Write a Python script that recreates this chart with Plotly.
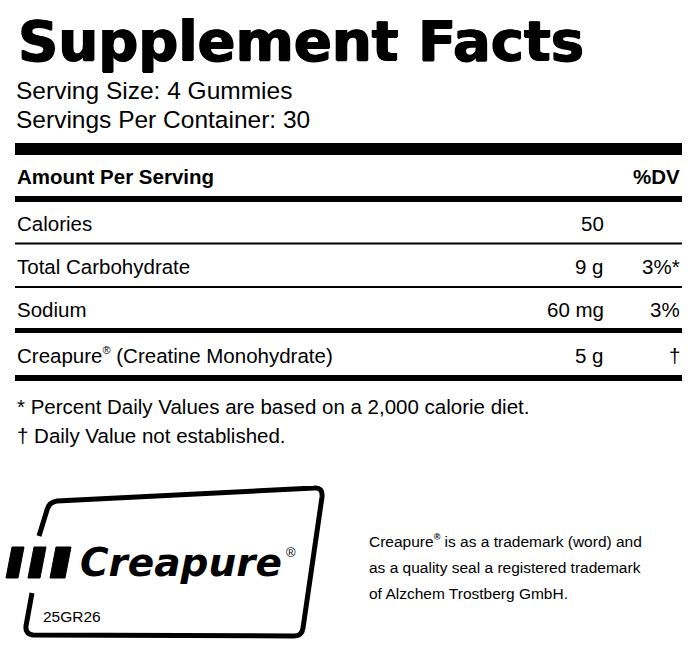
import plotly.graph_objects as go

# label content
title = "Supplement Facts"
serving_lines = ["Serving Size: 4 Gummies", "Servings Per Container: 30"]
header_left = "Amount Per Serving"
header_right = "%DV"
nutrients = ["Calories", "Total Carbohydrate", "Sodium",
             "Creapure<sup><span style='font-size:11px'>®</span></sup> (Creatine Monohydrate)"]
amounts = ["50", "9 g", "60 mg", "5 g"]
daily_values = ["", "3%*", "3%", "†"]
footnotes = ["* Percent Daily Values are based on a 2,000 calorie diet.",
             "† Daily Value not established."]
logo_word = "Creapure"
logo_code = "25GR26"
trademark_lines = ["Creapure<sup><span style='font-size:9px'><b>®</b></span></sup> is as a trademark (word) and",
                   "as a quality seal a registered trademark",
                   "of Alzchem Trostberg GmbH."]

W, H = 699, 656
LEFT, RIGHT = 15, 682
AMOUNT_X, DV_X = 605, 682
BODY = "Liberation Sans, Arial, sans-serif"

# horizontal rules: (top, bottom)
rules = [(143, 155), (196, 202), (242.5, 244.5), (286, 288), (328, 333), (375, 381)]

fig = go.Figure()
shapes = []
annotations = []


def text(x, y, s, size, anchor="left", family=BODY, shadow=None):
    font = dict(family=family, size=size, color="black")
    if shadow:
        font["shadow"] = shadow
    annotations.append(dict(x=x, y=y, xref="x", yref="y", text=s, showarrow=False,
                            xanchor=anchor, yanchor="middle", font=font))


for top, bottom in rules:
    shapes.append(dict(type="rect", x0=LEFT, x1=RIGHT, y0=top, y1=bottom,
                       xref="x", yref="y", fillcolor="black", line=dict(width=0)))

# heavy title: bold face thickened a little with a tight shadow
text(16, 40, "<b>" + title + "</b>", 56, family="DejaVu Sans, sans-serif",
     shadow="0.8px 0 0 black, -0.8px 0 0 black, 0 0.6px 0 black")
for i, s in enumerate(serving_lines):
    text(14, 90 + i * 29, s, 24.5)

# header row
text(LEFT, 176, "<b>" + header_left + "</b>", 20.5)
text(DV_X, 176, "<b>" + header_right + "</b>", 20.5, anchor="right")

# nutrient rows sit between consecutive rules
for i, name in enumerate(nutrients):
    y = (rules[i + 1][1] + rules[i + 2][0]) / 2 + 1
    text(LEFT, y, name, 20.5)
    text(AMOUNT_X + 1, y, amounts[i], 20.5, anchor="right")
    if daily_values[i]:
        text(DV_X, y, daily_values[i], 20.5, anchor="right")

for i, s in enumerate(footnotes):
    text(LEFT, 406 + i * 29, s, 20.5)

# logo frame
upper = "M 39,536 L 47,510 Q 49,502 57,501 L 314,488 Q 323,487 322,497 L 303,628 Q 302,636 294,636 L 33,635 Q 25,634 26,626 L 32,593"
shapes.append(dict(type="path", path=upper, xref="x", yref="y",
                   line=dict(color="black", width=5)))

# three slanted bars of the logo
for x0, w in [(6, 12), (28, 12), (50, 15)]:
    p = f"M {x0},578 L {x0 + w},578 L {x0 + w + 6},547 L {x0 + 6},547 Z"
    shapes.append(dict(type="path", path=p, xref="x", yref="y",
                       fillcolor="black", line=dict(color="black", width=1)))

text(78, 562, "<b><i>" + logo_word + "</i></b>", 39, family="DejaVu Sans, sans-serif")
text(284, 552, "®", 13)
text(41, 616, logo_code, 15.5)

for i, s in enumerate(trademark_lines):
    text(367, 541 + i * 26, s, 15.5)

fig.update_layout(
    width=W, height=H,
    margin=dict(l=0, r=0, t=0, b=0),
    paper_bgcolor="white", plot_bgcolor="white",
    xaxis=dict(range=[0, W], visible=False, fixedrange=True),
    yaxis=dict(range=[H, 0], visible=False, fixedrange=True),
    shapes=shapes, annotations=annotations, showlegend=False,
)

fig.write_html("out.html", config={"displayModeBar": False},
               post_script="document.body.style.margin='0';document.body.style.overflow='hidden';")
